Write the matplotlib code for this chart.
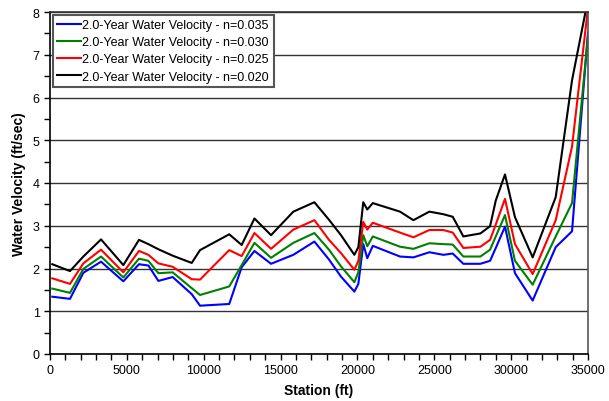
import matplotlib
matplotlib.use("Agg")
import matplotlib.pyplot as plt
from matplotlib.ticker import MultipleLocator

plt.rcParams['font.family'] = ['Liberation Sans', 'DejaVu Sans']

station = [150, 1300, 2170, 3320, 4770, 5790, 6400, 7050, 7980, 9220, 9760,
           11660, 12470, 13300, 14380, 15830, 17200, 18150, 18930, 19800, 20060,
           20380, 20640, 21000, 22770, 23640, 24680, 25590, 26200, 26890, 28000,
           28630, 29000, 29600, 30250, 31400, 32900, 33960, 35000]

v_n035 = [1.34, 1.29, 1.90, 2.16, 1.70, 2.10, 2.07, 1.71, 1.80, 1.40, 1.13,
          1.17, 2.03, 2.41, 2.11, 2.32, 2.63, 2.21, 1.81, 1.46, 1.64,
          2.57, 2.24, 2.53, 2.28, 2.26, 2.38, 2.32, 2.35, 2.11, 2.11,
          2.18, 2.48, 2.98, 1.89, 1.25, 2.50, 2.87, 7.52]

v_n030 = [1.53, 1.43, 1.99, 2.28, 1.79, 2.23, 2.18, 1.89, 1.91, 1.54, 1.38,
          1.58, 2.08, 2.60, 2.25, 2.60, 2.83, 2.44, 2.05, 1.68, 1.91,
          2.78, 2.52, 2.75, 2.51, 2.46, 2.59, 2.57, 2.56, 2.28, 2.28,
          2.44, 2.75, 3.25, 2.18, 1.62, 2.75, 3.53, 7.45]

v_n025 = [1.77, 1.64, 2.12, 2.44, 1.91, 2.41, 2.32, 2.12, 2.04, 1.75, 1.74,
          2.43, 2.29, 2.83, 2.46, 2.91, 3.13, 2.67, 2.36, 1.97, 2.18,
          3.09, 2.91, 3.07, 2.84, 2.73, 2.90, 2.90, 2.84, 2.48, 2.51,
          2.67, 3.03, 3.63, 2.57, 1.87, 3.13, 4.85, 8.10]

v_n020 = [2.10, 1.94, 2.28, 2.68, 2.08, 2.67, 2.57, 2.45, 2.30, 2.13, 2.43,
          2.80, 2.55, 3.17, 2.78, 3.33, 3.55, 3.14, 2.78, 2.32, 2.50,
          3.55, 3.38, 3.53, 3.33, 3.13, 3.33, 3.27, 3.21, 2.75, 2.82,
          2.99, 3.59, 4.20, 3.20, 2.26, 3.67, 6.40, 8.30]

series = [
    ("2.0-Year Water Velocity - n=0.035", v_n035, "#0000ff"),
    ("2.0-Year Water Velocity - n=0.030", v_n030, "#008000"),
    ("2.0-Year Water Velocity - n=0.025", v_n025, "#ff0000"),
    ("2.0-Year Water Velocity - n=0.020", v_n020, "#000000"),
]

fig = plt.figure(figsize=(6.09, 4.02), dpi=100)
ax = fig.add_axes([50/609, 47/402, 538/609, 342/402])

for label, vals, col in series:
    ax.plot(station, vals, color=col, lw=1.5, label=label)

ax.set_xlim(0, 35000)
ax.set_ylim(0, 8)
ax.xaxis.set_major_locator(MultipleLocator(5000))
ax.xaxis.set_minor_locator(MultipleLocator(1000))
ax.yaxis.set_major_locator(MultipleLocator(1))
ax.yaxis.set_minor_locator(MultipleLocator(0.5))
ax.grid(axis='y', which='major', color='#333333', lw=1.0)
ax.set_axisbelow(True)
ax.tick_params(which='both', direction='out', length=4, width=1, labelsize=9)
for s in ax.spines.values():
    s.set_color('black')
    s.set_linewidth(1.2)
ax.spines['right'].set_color('#555555')
ax.spines['top'].set_color('#333333')

ax.set_xlabel("Station (ft)", fontsize=10, fontweight='bold', labelpad=5)
ax.set_ylabel("Water Velocity (ft/sec)", fontsize=10, fontweight='bold', labelpad=5)

leg = ax.legend(loc='upper left', fontsize=9, frameon=True, fancybox=False,
                handlelength=1.9, handletextpad=0.15, borderpad=0.35,
                labelspacing=0.42, borderaxespad=0.2, framealpha=1)
leg.get_frame().set_edgecolor('#555555')
leg.get_frame().set_linewidth(1.5)

fig.savefig("out.png", dpi=100)
